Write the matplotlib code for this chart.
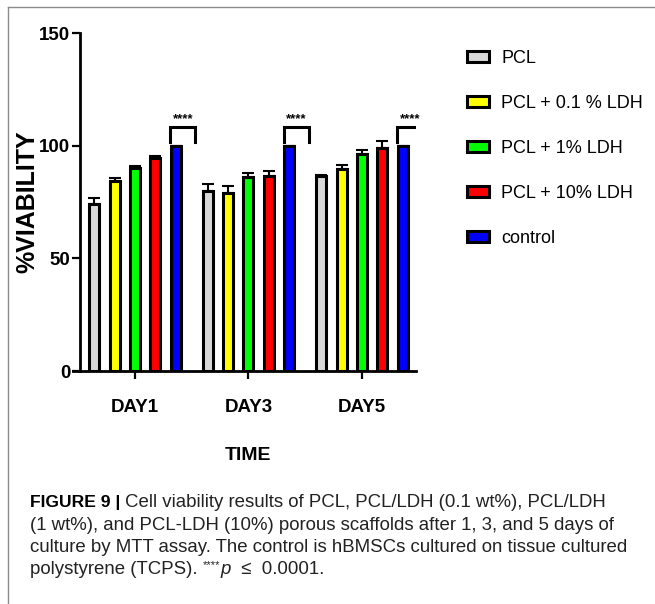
import matplotlib
matplotlib.use('Agg')
from matplotlib import pyplot as plt
from matplotlib.patches import Patch
from matplotlib.lines import Line2D
import numpy as np

days = ['DAY1', 'DAY3', 'DAY5']
groups = ['PCL', 'PCL + 0.1 % LDH', 'PCL + 1% LDH', 'PCL + 10% LDH', 'control']
cores = ['#d9d9d9', '#ffff00', '#00ff00', '#ff0000', '#0000ff']

pcl = [74, 80, 86.5]
pcl_01 = [84.5, 79, 89.5]
pcl_1 = [90, 86, 96.3]
pcl_10 = [94.5, 86.5, 99]
controle = [100, 100, 100]

erro_pcl = [2.8, 3.2, 0.3]
erro_pcl_01 = [1.2, 2.9, 1.9]
erro_pcl_1 = [1.1, 1.7, 1.6]
erro_pcl_10 = [0.8, 2.3, 3.0]
erro_controle = [0, 0, 0]

significancia = ['****', '****', '****']

valores = [pcl, pcl_01, pcl_1, pcl_10, controle]
erros = [erro_pcl, erro_pcl_01, erro_pcl_1, erro_pcl_10, erro_controle]

plt.rcParams['font.family'] = ['Liberation Sans', 'DejaVu Sans']

W, H = 655, 604
fig = plt.figure(figsize=(W / 100, H / 100), dpi=100)


def fx(px):
    return px / W


def fy(py):
    return 1 - py / H


ax = fig.add_axes([fx(73), fy(371), fx(416) - fx(73), fy(33) - fy(371)])

x = np.arange(len(days))
passo = 0.179
largura = 0.088

for i, (vals, errs) in enumerate(zip(valores, erros)):
    pos = x + (i - 2) * passo
    ax.errorbar(pos, vals, yerr=[np.zeros(len(errs)), errs], fmt='none',
                ecolor='black', elinewidth=1.5, capsize=4.5, capthick=1.5, zorder=2)
    ax.bar(pos, vals, largura, color=cores[i], edgecolor='black',
           linewidth=2.2, zorder=3, label=groups[i])

# colchetes de significancia (PCL + 10% vs controle)
for j, s in enumerate(significancia):
    xa = x[j] + 2 * passo - 0.045
    xb = x[j] + 2 * passo + 0.175
    topo = 108.3
    ax.plot([xa, xa, xb, xb], [101.5, topo, topo, 101.5], color='black',
            lw=2.2, solid_joinstyle='miter', zorder=4)
    ax.text((xa + xb) / 2, topo + 0.6, s, ha='center', va='bottom',
            fontsize=9.5, fontweight='bold')

# posicao do spine antes dos rotulos (set_position reinicia os ticks)
ax.spines['top'].set_visible(False)
ax.spines['right'].set_visible(False)
ax.spines['left'].set_position(('data', -0.484))
ax.spines['left'].set_linewidth(2)
ax.spines['bottom'].set_linewidth(2)

ax.set_xlim(-0.546, 2.476)
ax.set_ylim(0, 150)
ax.set_yticks([0, 50, 100, 150])
ax.set_yticklabels(['0', '50', '100', '150'], fontsize=13.5, fontweight='bold')
ax.set_xticks(x)
ax.set_xticklabels(days, fontsize=13.5, fontweight='bold')
ax.tick_params(axis='y', length=5.5, width=1.6, pad=1.5)
ax.tick_params(axis='x', length=6, width=1.6, pad=14)

ax.set_ylabel('%VIABILITY', fontsize=18, fontweight='bold')
ax.yaxis.set_label_coords((39 - 73) / 343, 0.5)
ax.set_xlabel('TIME', fontsize=14, fontweight='bold')
ax.xaxis.set_label_coords((248 - 73) / 343, (371 - 447) / 338)

handles = [Patch(facecolor=c, edgecolor='black', linewidth=2.2) for c in cores]
fig.legend(handles, groups, loc='upper left', bbox_to_anchor=(fx(467), fy(50)),
           frameon=False, prop={'size': 13},
           handlelength=1.2, handleheight=0.6, handletextpad=0.7,
           labelspacing=1.55, borderaxespad=0, borderpad=0)

# moldura da figura
fig.add_artist(Line2D([fx(8), 1], [fy(7), fy(7)], color='#8a8a8a', lw=1))
fig.add_artist(Line2D([fx(8), fx(8)], [fy(7), 0], color='#8a8a8a', lw=1))

# legenda da figura
base = [507, 529.5, 552, 574.5]
tam = 13.4
cor = '#222222'


def escreve(pedacos, y):
    # escreve pedacos de texto lado a lado na mesma linha
    xp = 30
    for texto, kw, dy in pedacos:
        opcoes = dict(va='baseline', ha='left', color=cor)
        opcoes.update(kw)
        t = fig.text(fx(xp), fy(y + dy), texto, **opcoes)
        fig.canvas.draw()
        xp = t.get_window_extent().x1


escreve([('FIGURE 9 | ', dict(fontsize=12.6, fontweight='bold', color='black'), 0),
         ('Cell viability results of PCL, PCL/LDH (0.1 wt%), PCL/LDH',
          dict(fontsize=tam), 0)], base[0])
fig.text(fx(30), fy(base[1]),
         '(1 wt%), and PCL-LDH (10%) porous scaffolds after 1, 3, and 5 days of',
         fontsize=tam, va='baseline', ha='left', color=cor)
fig.text(fx(30), fy(base[2]),
         'culture by MTT assay. The control is hBMSCs cultured on tissue cultured',
         fontsize=tam, va='baseline', ha='left', color=cor)
escreve([('polystyrene (TCPS). ', dict(fontsize=tam), 0),
         ('****', dict(fontsize=8), -6),
         ('p', dict(fontsize=tam, style='italic'), 0),
         ('  \u2264  0.0001.', dict(fontsize=tam), 0)], base[3])

fig.savefig('out.png', dpi=100)
